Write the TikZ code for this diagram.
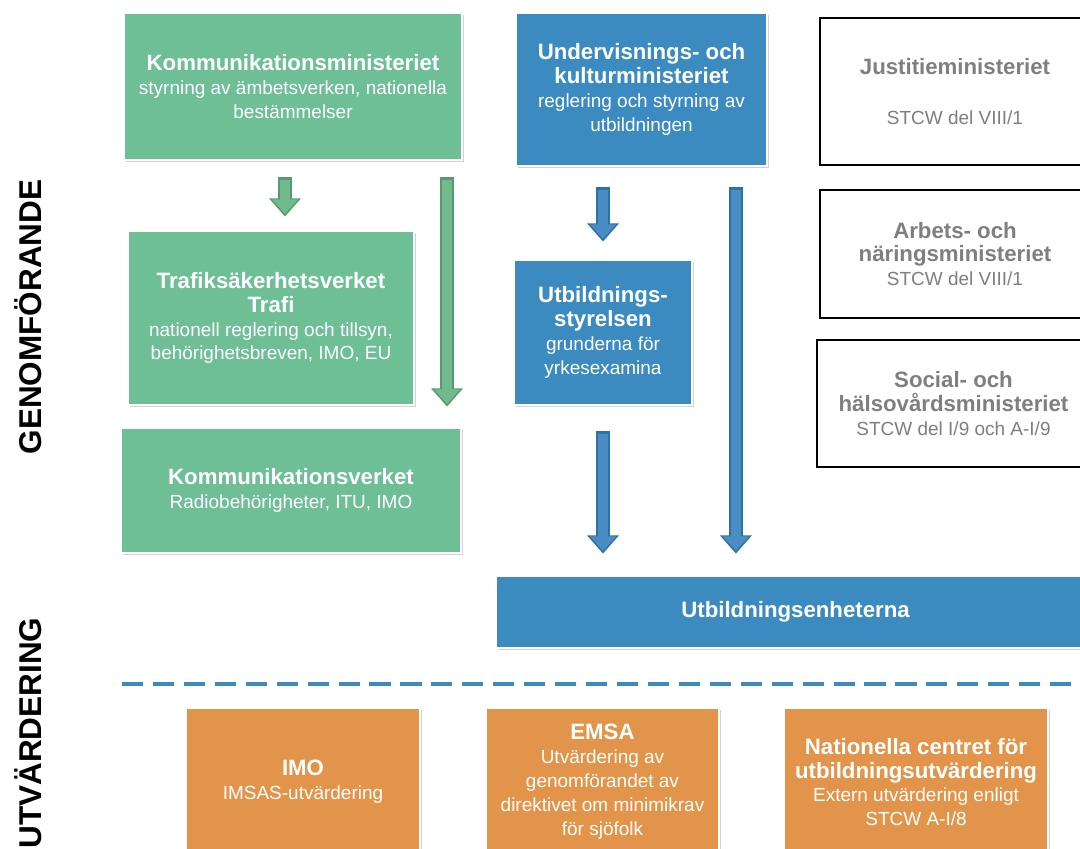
\documentclass[tikz,border=0pt]{standalone}
\usepackage{fontspec}
\setmainfont{Liberation Sans}
\usetikzlibrary{arrows.meta,shadows}

\definecolor{kgreen}{HTML}{6EBE96}
\definecolor{kblue}{HTML}{3B8BC0}
\definecolor{korange}{HTML}{E2954A}
\definecolor{ktext}{HTML}{7F7F7F}
\definecolor{greenfill}{HTML}{71BA8D}
\definecolor{greenline}{HTML}{5A9872}
\definecolor{bluefill}{HTML}{4A8CC4}
\definecolor{blueline}{HTML}{2C73A4}

\tikzset{
  box/.style={draw=white, line width=2pt, align=center, text=white, inner sep=0pt,
    font=\fontsize{13.5}{17}\selectfont,
    drop shadow={shadow xshift=1.5pt, shadow yshift=-1.5pt, opacity=0.3, fill=black!60}},
  greenbox/.style={box, fill=kgreen},
  bluebox/.style={box, fill=kblue},
  orangebox/.style={box, fill=korange},
  graybox/.style={draw=black, line width=2pt, fill=white, align=center, text=ktext,
    inner sep=0pt, font=\fontsize{13.5}{17}\selectfont},
  sidelabel/.style={rotate=90, font=\fontsize{22.4}{26}\bfseries}
}

\newcommand{\tit}[1]{{\fontsize{15.8}{17}\bfseries #1}}
% #1 colour, #2/#3 shorten start/end, #4/#5 from/to
\newcommand{\fatarrow}[5]{%
  \draw[draw=#1line, line width=10pt, -{Triangle[width=22pt,length=13pt,fill=#1line]},
    shorten <=#2, shorten >=#3] #4 -- #5;
  \draw[draw=#1fill, line width=7pt, -{Triangle[width=18pt,length=10.5pt,fill=#1fill]},
    shorten <=#2+1.5pt, shorten >=#3+1.8pt] #4 -- #5;
}

\begin{document}
\begin{tikzpicture}[x=0.025cm, y=-0.025cm]
    \useasboundingbox (0,0) rectangle (1080,849);
    \clip (0,0) rectangle (1080,849);

    % side labels
    \node[sidelabel] (genom) at (28,317) {GENOMFÖRANDE};
    \node[sidelabel] (utv) at (28,733) {UTVÄRDERING};

    % green column
    \node[greenbox, minimum width=8.45cm, minimum height=3.675cm] (kmin) at (293,86.5)
        {\tit{Kommunikationsministeriet}\\styrning av ämbetsverken, nationella\\bestämmelser};
    \node[greenbox, minimum width=7.15cm, minimum height=4.35cm] (trafi) at (271,318)
        {\tit{Trafiksäkerhetsverket}\\\tit{Trafi}\\nationell reglering och tillsyn,\\behörighetsbreven, IMO, EU};
    \node[greenbox, minimum width=8.5cm, minimum height=3.125cm] (kverk) at (291,490.5)
        {\tit{Kommunikationsverket}\\Radiobehörigheter, ITU, IMO};

    % blue column
    \node[bluebox, minimum width=6.275cm, minimum height=3.825cm] (ukm) at (641.5,89.5)
        {\tit{Undervisnings- och}\\\tit{kulturministeriet}\\reglering och styrning av\\utbildningen};
    \node[bluebox, minimum width=4.45cm, minimum height=3.625cm] (uss) at (603,332.5)
        {\tit{Utbildnings-}\\\tit{styrelsen}\\grunderna för\\yrkesexamina};
    \node[bluebox, minimum width=14.975cm, minimum height=1.8cm] (uenh) at (795.5,612)
        {\tit{Utbildningsenheterna}};

    % other ministries
    \node[graybox, minimum width=6.75cm, minimum height=3.675cm] (just) at (955,91.5)
        {\tit{Justitieministeriet}\\[18pt]STCW del VIII/1};
    \node[graybox, minimum width=6.75cm, minimum height=3.2cm] (arb) at (955,254)
        {\tit{Arbets- och}\\\tit{näringsministeriet}\\STCW del VIII/1};
    \node[graybox, minimum width=6.825cm, minimum height=3.175cm] (shm) at (953.5,403.5)
        {\tit{Social- och}\\\tit{hälsovårdsministeriet}\\STCW del I/9 och A-I/9};

    % arrows
    \fatarrow{green}{0.4cm}{0.325cm}{([xshift=-0.2cm]kmin.south)}{([xshift=-0.2cm]kmin.south |- trafi.north)}
    \fatarrow{green}{0.4cm}{0.5cm}{([xshift=3.85cm]kmin.south)}{([xshift=3.85cm]kmin.south |- kverk.north)}
    \fatarrow{blue}{0.5cm}{0.425cm}{(uss.north |- ukm.south)}{(uss.north)}
    \fatarrow{blue}{0.625cm}{0.525cm}{(uss.south)}{(uss.south |- uenh.north)}
    \fatarrow{blue}{0.5cm}{0.525cm}{([xshift=2.36cm]ukm.south)}{([xshift=2.36cm]ukm.south |- uenh.north)}

    % separator
    \draw[kblue, line width=2.8pt, dash pattern=on 15pt off 7pt] (122,684) -- (1080,684);

    % evaluation
    \node[orangebox, minimum width=5.85cm, minimum height=3.7cm] (imo) at (303,782)
        {\tit{IMO}\\IMSAS-utvärdering};
    \node[orangebox, minimum width=5.825cm, minimum height=3.7cm] (emsa) at (602.5,782)
        {\tit{EMSA}\\Utvärdering av\\genomförandet av\\direktivet om minimikrav\\för sjöfolk};
    \node[orangebox, minimum width=6.6cm, minimum height=3.7cm] (karvi) at (916,782)
        {\tit{Nationella centret för}\\\tit{utbildningsutvärdering}\\Extern utvärdering enligt\\STCW A-I/8};
\end{tikzpicture}
\end{document}
